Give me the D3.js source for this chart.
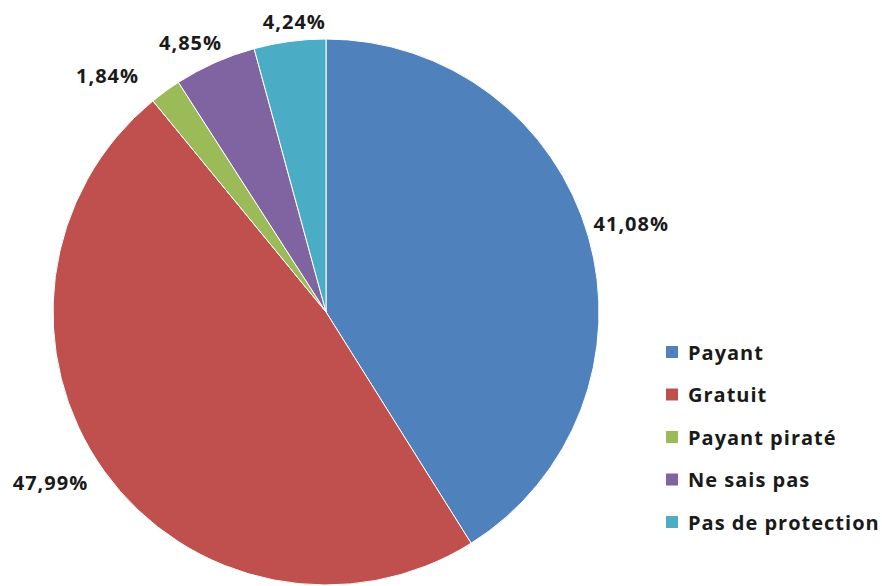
<!DOCTYPE html>
<html>
<head>
<meta charset="utf-8">
<script src="https://cdnjs.cloudflare.com/ajax/libs/d3/7.8.5/d3.min.js"></script>
<style>
body{ margin:0; padding:0; background:#fff; }
svg text{ font-family:"Open Sans", sans-serif; font-weight:700; fill:#1a1a1a; letter-spacing:1px; }
</style>
</head>
<body>
<div id="chart"></div>
<script>
// données
var categories = ["Payant", "Gratuit", "Payant piraté", "Ne sais pas", "Pas de protection"];
var values = [41.08, 47.99, 1.84, 4.85, 4.24];
var colors = ["#4F81BD", "#C0504D", "#9BBB59", "#8064A2", "#4BACC6"];

var W = 882, H = 586, cx = 326, cy = 312, r = 273;
// petits décalages des étiquettes, comme Excel les a placées
var nudge = {"Payant":[-2,-8], "Gratuit":[-16,0], "Payant piraté":[-34,0], "Ne sais pas":[-8,-3], "Pas de protection":[10,-1]};

var svg = d3.select("#chart").append("svg")
    .attr("width", W).attr("height", H);

var data = categories.map(function(c, i){ return {name:c, value:values[i], color:colors[i]}; });
var pie = d3.pie().sort(null).value(function(d){ return d.value; });
var arc = d3.arc().innerRadius(0).outerRadius(r);

var g = svg.append("g").attr("transform", "translate(" + cx + "," + cy + ")");
var arcs = pie(data);

g.selectAll("path").data(arcs).enter().append("path")
    .attr("d", arc)
    .attr("fill", function(d){ return d.data.color; })
    .attr("stroke", "#fff")
    .attr("stroke-width", 1);

var fmt = function(v){ return v.toFixed(2).replace(".", ",") + "%"; };

g.selectAll("text.lbl").data(arcs).enter().append("text")
    .attr("class", "lbl")
    .attr("font-size", "20px")
    .attr("text-anchor", "middle")
    .attr("dominant-baseline", "central")
    .text(function(d){ return fmt(d.data.value); })
    .each(function(d){
        var a = (d.startAngle + d.endAngle)/2, w = this.getComputedTextLength(), h = 20, rr = r + 9;
        var x = (rr + w/2)*Math.sin(a), y = -(rr + h/2)*Math.cos(a);
        var n = nudge[d.data.name];
        d3.select(this).attr("x", x + n[0]).attr("y", y + n[1]);
    });

var leg = svg.append("g").attr("transform", "translate(666,346)");
var item = leg.selectAll("g").data(data).enter().append("g")
    .attr("transform", function(d, i){ return "translate(0," + (i*42.5) + ")"; });
item.append("rect").attr("width", 12).attr("height", 12)
    .attr("fill", function(d){ return d.color; });
item.append("text").attr("x", 22).attr("y", 6)
    .attr("dominant-baseline", "central")
    .attr("font-size", "20px")
    .text(function(d){ return d.name; });
</script>
</body>
</html>
